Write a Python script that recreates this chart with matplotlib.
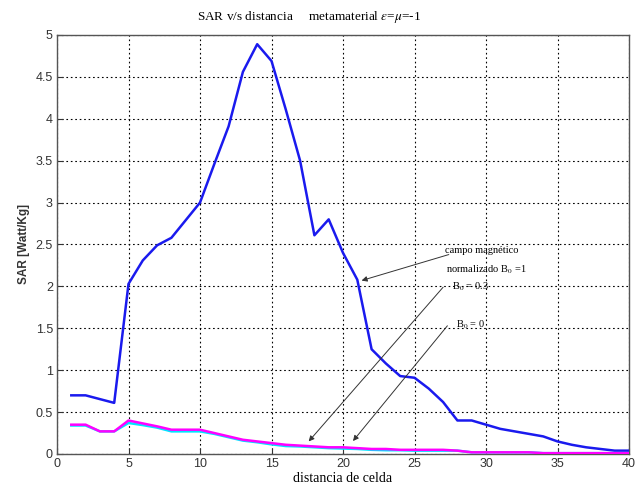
import matplotlib
matplotlib.use("Agg")
import matplotlib.pyplot as plt
import numpy as np

plt.rcParams["mathtext.fontset"] = "stix"

# Data
celda = list(range(1, 41))
sar_b1 = [0.70, 0.70, 0.655, 0.61, 2.03, 2.31, 2.49, 2.58, 2.79, 3.00,
          3.46, 3.91, 4.56, 4.89, 4.69, 4.11, 3.50, 2.61, 2.80, 2.40,
          2.08, 1.25, 1.08, 0.93, 0.91, 0.78, 0.62, 0.40, 0.40, 0.35,
          0.30, 0.27, 0.24, 0.21, 0.15, 0.11, 0.08, 0.06, 0.04, 0.04]
sar_b03 = [0.34, 0.34, 0.27, 0.27, 0.37, 0.345, 0.315, 0.27, 0.27, 0.27,
           0.24, 0.20, 0.16, 0.14, 0.115, 0.095, 0.09, 0.08, 0.07, 0.065,
           0.06, 0.05, 0.045, 0.045, 0.04, 0.04, 0.04, 0.04, 0.02, 0.02,
           0.02, 0.02, 0.02, 0.01, 0.01, 0.01, 0.01, 0.01, 0.01, 0.01]
sar_b0 = [0.35, 0.35, 0.27, 0.27, 0.40, 0.365, 0.33, 0.29, 0.29, 0.29,
          0.25, 0.21, 0.17, 0.15, 0.13, 0.11, 0.10, 0.09, 0.08, 0.08,
          0.07, 0.06, 0.06, 0.05, 0.05, 0.05, 0.05, 0.04, 0.02, 0.02,
          0.02, 0.02, 0.02, 0.01, 0.01, 0.01, 0.01, 0.01, 0.01, 0.01]
xticks = [0, 5, 10, 15, 20, 25, 30, 35, 40]
yticks = [0, 0.5, 1, 1.5, 2, 2.5, 3, 3.5, 4, 4.5, 5]
ytick_labels = ["0", "0.5", "1", "1.5", "2", "2.5", "3", "3.5", "4", "4.5", "5"]

serif = ["Liberation Serif", "DejaVu Serif"]
sans = ["Liberation Sans", "DejaVu Sans"]

fig = plt.figure(figsize=(6.4, 4.87), dpi=100)
ax = fig.add_axes([57/640, 1-454/487, (629-57)/640, (454-35)/487])

ax.plot(celda, sar_b1, color="#1a1aee", lw=1.8, zorder=3)
ax.plot(celda, sar_b03, color="#00e5ff", lw=1.8, zorder=3)
ax.plot(celda, sar_b0, color="#ff00ff", lw=1.8, zorder=4)

ax.set_xlim(0, 40)
ax.set_ylim(0, 5)
ax.set_xticks(xticks)
ax.set_yticks(yticks)
ax.set_yticklabels(ytick_labels)
ax.grid(True, color="black", linestyle=(0, (1.5, 2.5)), linewidth=0.8)
ax.tick_params(direction="in", length=4, labelsize=9, colors="#333333", pad=3)
for lab in ax.get_xticklabels() + ax.get_yticklabels():
    lab.set_family(sans)
for s in ax.spines.values():
    s.set_color("#555555")
    s.set_linewidth(1.0)

ax.set_xlabel("distancia de celda", family=serif, fontsize=10, labelpad=1)
ax.set_ylabel("SAR [Watt/Kg]", family=sans, fontsize=8.5, fontweight="bold", labelpad=4, color="#333333")

fig.text(0.483, 0.965, r"SAR v/s distancia     metamaterial $\varepsilon$=$\mu$=-1",
         family=serif, fontsize=9.5, ha="center", va="center")

# annotations
akw = dict(arrowstyle="-|>", color="#333333", lw=0.7, mutation_scale=8, shrinkA=0, shrinkB=0)
ax.annotate("", xy=(21.3, 2.07), xytext=(27.4, 2.38), arrowprops=akw)
ax.annotate("", xy=(17.6, 0.15), xytext=(27.0, 1.99), arrowprops=akw)
ax.annotate("", xy=(20.7, 0.155), xytext=(27.3, 1.53), arrowprops=akw)
ax.text(27.1, 2.43, "campo magnético", family=serif, fontsize=7.5, va="center", ha="left")
ax.text(27.2, 2.20, r"normalizado B$_0$ =1", family=serif, fontsize=7.5, va="center", ha="left")
ax.text(27.6, 2.00, r"B$_0$ = 0.3", family=serif, fontsize=7.5, va="center", ha="left")
ax.text(27.9, 1.54, r"B$_0$ = 0", family=serif, fontsize=7.5, va="center", ha="left")

fig.savefig("out.png", dpi=100)
